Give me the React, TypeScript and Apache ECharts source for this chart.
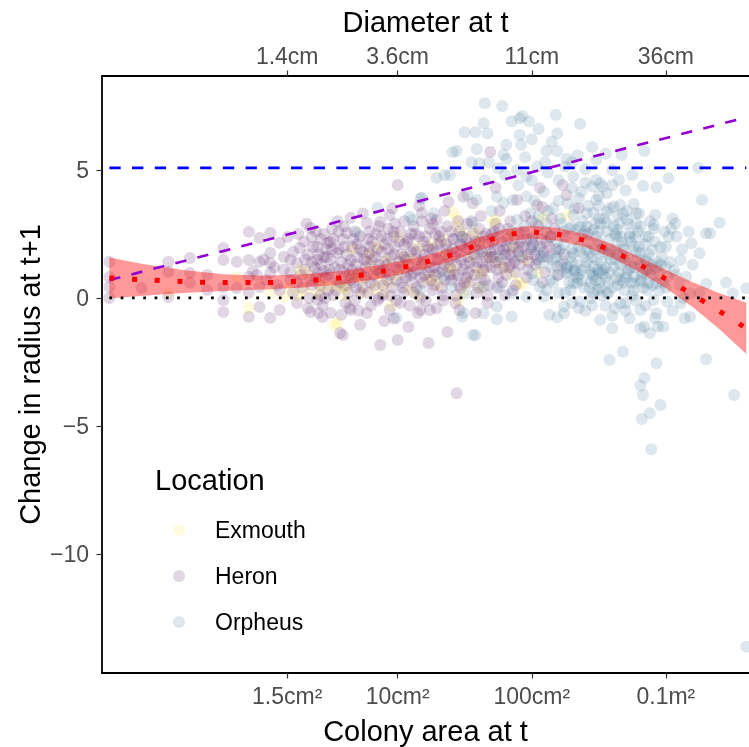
import React, { useEffect, useRef } from "react";
import * as echarts from "echarts";

const FONT = '"Liberation Sans", Arial, Helvetica, sans-serif';

// x = log10(colony area in cm²), y = change in radius at t+1
const areaTickCm2 = [1.5, 10, 100, 1000];
const areaTickLabels = ["1.5cm²", "10cm²", "100cm²", "0.1m²"];
const diameterTickLabels = ["1.4cm", "3.6cm", "11cm", "36cm"];
const yTicks = [-10, -5, 0, 5];
const xRange = [-1.205, 3.62];
const yRange = [-14.65, 8.67];

const locations = ["Exmouth", "Heron", "Orpheus"];
const locationColors = ["rgba(253,231,37,0.2)", "rgba(68,1,84,0.2)", "rgba(49,104,142,0.2)"];

const exmouth: number[][] = [
  [1.41, 3.36], [1.44, 3.13], [1.45, 2.77], [1.34, 2.27], [0.66, 1.88], [0.85, 1.99], [0.92, 1.48], [1.04, 1.6],
  [1.26, 0.82], [1.41, 1.09], [1.52, 0.59], [1.59, 0.98], [0.5, 0.43], [0.3, 0.31], [0.27, 1.09], [0.55, -0.98],
  [0.74, 0.7], [0.94, 0.59], [0.15, 0.04], [0.62, 0.43], [0.82, 0.31], [0.42, 0.7], [1.49, 0.2], [1.71, 2.97],
  [2.08, 3.13], [2.26, 3.24], [1.79, 1.17], [1.64, 1.02], [1.91, 0.59], [1.58, 2.54], [1.86, 1.99], [1.73, 3.05],
  [1.93, 0.51], [-0.11, -0.39], [-0.71, 0.2], [-0.2, 0.82], [0.66, 0.82], [0.32, 0.98], [0.2, 0.39], [0.05, 0.2],
  [0.44, 0.43], [0.87, 0.59], [1.09, 0.31], [0.74, 0.2], [0.59, 0.43], [1.2, 1.3], [1.0, 2.4], [1.15, 0.1],
  [0.53, -1.05], [0.7, 0.9], [0.9, 0.2], [1.1, 1.5], [1.3, 0.5], [1.35, 1.7], [1.55, 1.6], [1.75, 1.4], [1.85, 0.9],
  [1.0, 0.9], [0.8, 1.3], [0.6, 0.1], [0.4, 0.2], [1.25, 2.1], [1.6, 2.2], [1.95, 1.5], [2.05, 1.0], [0.95, -0.3],
  [1.45, -0.1], [0.25, 0.1], [0.85, 0.95], [1.05, 1.2], [1.22, 0.7], [1.38, 1.2], [1.5, 2.5], [1.68, 1.6], [0.78, 1.7],
  [0.55, 0.5], [1.85, 2.5], [1.62, 0.4], [1.15, 2.0],
];

const heron: number[][] = [
  [-1.15, 1.41], [-1.15, 0.82], [-1.15, 0.43], [-1.15, 0.0], [-0.91, 0.39], [-0.71, 1.41], [-0.71, 1.02], [-0.71, 0.04],
  [-0.55, 1.56], [-0.55, 0.98], [-0.55, 0.59], [-0.42, 0.9], [-0.42, 0.31], [-0.3, 1.95], [-0.3, 1.48], [-0.3, 0.43],
  [-0.3, -0.08], [-0.3, -0.55], [-0.2, 1.41], [-0.2, 0.39], [-0.11, 2.58], [-0.11, 1.48], [-0.11, 0.82], [-0.11, 0.2],
  [-0.11, -0.74], [-0.08, 1.05], [-0.03, 2.34], [-0.03, 1.41], [-0.03, 0.43], [-0.03, -0.35], [0.02, 0.7], [0.05, 2.54],
  [0.05, 1.76], [0.05, 1.37], [0.05, 0.98], [0.05, -0.78], [0.1, 0.5], [0.12, 2.15], [0.12, -0.47], [0.15, 1.1],
  [0.18, 2.38], [0.2, 1.48], [0.2, 0.7], [0.22, 0.2], [0.25, 1.37], [0.25, -0.2], [0.27, 1.95], [0.28, 0.9],
  [0.35, 2.73], [0.36, 2.38], [0.4, 1.99], [0.4, 1.48], [0.4, 0.98], [0.4, -0.08], [0.41, -0.59], [0.47, 1.6],
  [0.48, 2.15], [0.5, -0.59], [0.5, 2.19], [0.55, 1.76], [0.59, -1.45], [0.62, 2.54], [0.65, 3.13], [0.65, 1.48],
  [0.65, -0.47], [0.72, -1.05], [0.77, -0.59], [0.79, 1.76], [0.77, 2.93], [0.87, -1.84], [0.87, 2.97], [0.94, 3.24],
  [0.97, 2.58], [1.0, 4.41], [1.0, -1.64], [1.08, -1.13], [1.18, 3.32], [1.29, 3.05], [1.38, 3.75], [1.49, 3.95],
  [0.35, -0.55], [0.44, -0.74], [0.58, -0.66], [0.64, -0.39], [1.23, -1.76], [1.37, -1.33], [1.24, -0.47], [1.15, -0.59],
  [0.94, -0.47], [0.57, -1.37], [1.69, 5.7], [2.06, 4.3], [2.23, 4.41], [2.26, 4.02], [1.73, 4.3], [1.89, 3.83],
  [2.04, 3.63], [2.08, 3.55], [1.58, -0.59], [1.46, -0.47], [1.67, -0.2], [1.17, -0.47], [1.44, -3.72],
  [0.32, 2.9], [0.45, 2.5], [0.33, 1.7], [0.43, 1.3], [0.31, 1.1], [0.46, 0.8], [0.36, 0.5], [0.48, 0.3], [0.34, 0.0], [0.44, -0.3],
  [0.55, 3.0], [0.68, 2.6], [0.52, 2.3], [0.6, 2.0], [0.7, 1.6], [0.53, 1.2], [0.64, 0.9], [0.57, 0.6], [0.69, 0.4], [0.52, 0.1], [0.61, -0.2],
  [0.74, 3.3], [0.86, 2.8], [0.72, 2.4], [0.81, 2.2], [0.88, 1.8], [0.75, 1.5], [0.84, 1.1], [0.73, 0.9], [0.89, 0.5], [0.78, 0.2], [0.85, -0.1], [0.71, -0.5], [0.9, -0.9],
  [0.96, 3.5], [1.05, 3.0], [0.93, 2.7], [1.08, 2.3], [0.98, 2.0], [1.03, 1.7], [0.92, 1.3], [1.07, 1.0], [0.99, 0.7], [1.04, 0.4], [0.95, 0.1], [1.09, -0.3], [0.97, -0.8],
  [1.16, 3.6], [1.25, 3.1], [1.12, 2.8], [1.28, 2.5], [1.19, 2.2], [1.23, 1.9], [1.14, 1.5], [1.27, 1.2], [1.2, 0.9], [1.11, 0.6], [1.26, 0.3], [1.17, 0.0], [1.29, -0.4],
  [1.35, 3.4], [1.45, 3.0], [1.32, 2.6], [1.42, 2.3], [1.48, 2.0], [1.36, 1.7], [1.44, 1.3], [1.31, 1.0], [1.4, 0.7], [1.47, 0.4], [1.34, 0.1], [1.43, -0.2],
  [1.56, 3.7], [1.62, 3.2], [1.52, 2.9], [1.66, 2.5], [1.58, 2.2], [1.69, 1.8], [1.54, 1.4], [1.64, 1.1], [1.51, 0.8], [1.6, 0.4], [1.67, 0.1],
  [1.76, 3.4], [1.84, 3.0], [1.72, 2.6], [1.87, 2.3], [1.79, 1.9], [1.71, 1.6], [1.83, 1.2], [1.75, 0.8], [1.88, 0.5], [1.8, 0.1],
  [1.95, 3.2], [2.05, 2.8], [1.92, 2.2], [2.02, 1.7], [1.97, 1.1], [2.08, 0.6],
  [2.15, 3.1], [2.25, 2.4], [2.12, 1.6], [2.2, 0.9], [2.35, 3.5], [2.42, 2.5],
  [0.3, 2.2], [0.38, 1.2], [0.42, 0.1], [0.47, 1.9], [0.35, 0.7], [0.5, 1.5], [0.56, 2.6], [0.58, 1.4], [0.63, 0.2],
  [0.66, 1.1], [0.7, 2.1], [0.68, -0.1], [0.76, 1.2], [0.79, 2.6], [0.8, 0.6], [0.83, 1.6], [0.86, 0.0], [0.88, 2.4],
  [0.91, 1.0], [0.93, 1.9], [0.96, 0.4], [0.98, 2.9], [1.01, 1.4], [1.02, -0.2], [1.05, 2.1], [1.06, 0.8], [1.1, 1.8],
  [1.12, 0.2], [1.13, 2.5], [1.15, 1.1], [1.18, 3.0], [1.2, 1.7], [1.21, -0.1], [1.24, 2.7], [1.25, 0.7], [1.28, 1.5],
  [1.3, 2.1], [1.33, 0.4], [1.35, 1.3], [1.37, 2.8], [1.39, 0.9], [1.41, 1.9], [1.43, 0.1], [1.46, 2.6], [1.47, 1.5],
  [1.5, 0.6], [1.51, 2.3], [1.53, 1.0], [1.55, 3.0], [1.57, 1.7], [1.59, 0.2], [1.61, 2.7], [1.63, 1.4], [1.65, 0.7],
  [1.68, 2.1], [1.7, 1.2], [1.73, 2.9], [1.74, 0.4], [1.77, 1.5], [1.78, 2.2], [1.81, 0.9], [1.82, 2.7], [1.85, 1.6],
  [1.86, 0.3], [1.9, 2.0], [1.91, 1.3], [1.94, 2.6], [1.96, 0.8], [1.99, 1.9], [2.0, 3.0], [2.03, 1.3], [2.07, 2.3],
  [2.1, 1.0], [2.13, 2.0], [2.17, 2.7], [2.22, 1.3], [0.6, 1.0], [0.45, 1.05], [0.25, 0.6], [0.15, 1.6], [0.08, 1.2],
  [0.0, 1.5], [-0.05, 0.9], [0.12, 0.3], [0.2, 1.0],
  [0.22, 1.8], [0.26, 2.5], [0.29, 0.4], [0.31, 1.5], [0.33, -0.4], [0.37, 2.0], [0.39, 0.8], [0.41, 1.7], [0.43, 2.3],
  [0.46, 0.0], [0.49, 1.1], [0.51, 2.7], [0.54, 0.7], [0.56, 1.9], [0.59, 2.3], [0.61, 0.5], [0.63, 1.3], [0.66, 2.0],
  [0.67, 0.6], [0.71, 1.0], [0.72, 1.9], [0.74, 0.4], [0.77, 1.4], [0.78, 2.3], [0.8, -0.3], [0.82, 0.9], [0.84, 2.5],
  [0.86, 1.3], [0.89, 0.1], [0.9, 2.1], [0.92, 0.7], [0.95, 1.6], [0.97, 2.4], [0.99, -0.1], [1.0, 1.1], [1.02, 2.6],
  [1.04, 0.2], [1.06, 1.5], [1.07, 2.2], [1.1, 0.9], [1.12, 1.9], [1.14, 0.4], [1.16, 2.4], [1.18, 1.3], [1.19, 0.6],
  [1.22, 2.0], [1.23, 1.0], [1.26, 2.9], [1.27, 0.5], [1.29, 1.8], [1.31, 2.4], [1.33, 1.1], [1.34, -0.1], [1.36, 2.1],
  [1.38, 1.5], [1.4, 2.6], [1.42, 0.9], [1.44, 1.8], [1.46, 0.5], [1.48, 2.4], [1.5, 1.3], [1.52, 1.9], [1.54, 0.6],
  [1.56, 2.5], [1.58, 1.2], [1.6, 1.8], [1.62, 0.8], [1.64, 2.4], [1.66, 1.6], [1.68, 0.5], [1.7, 2.5], [1.72, 1.9],
  [1.74, 1.1], [1.76, 2.7], [1.78, 0.6], [1.8, 1.7], [1.82, 2.3], [1.84, 1.3], [1.86, 2.0], [1.88, 1.0], [1.9, 2.6],
  [1.93, 1.6], [1.96, 2.3], [1.98, 1.4], [2.01, 2.1], [2.04, 1.5], [2.09, 1.8], [2.14, 2.4], [2.18, 1.9], [2.24, 1.7],
  [0.36, 1.4], [0.39, 2.6], [0.42, 0.5], [0.45, 1.6], [0.48, 0.9], [0.51, 1.9], [0.54, 0.3], [0.57, 1.1], [0.6, 2.8],
  [0.62, 1.7], [0.65, 0.7], [0.67, 2.3], [0.69, 1.3], [0.72, 0.2], [0.74, 1.8], [0.76, 0.8], [0.79, 2.0], [0.81, 1.5],
  [0.83, 0.5], [0.85, 1.9], [0.87, 1.0], [0.9, 1.4], [0.92, 2.3], [0.94, 0.9], [0.97, 1.7], [0.99, 1.2], [1.01, 2.2],
  [1.03, 0.6], [1.05, 1.6], [1.08, 1.3], [1.1, 2.5], [1.12, 1.0], [1.14, 1.8], [1.17, 0.8], [1.19, 1.5], [1.21, 2.4],
  [1.24, 1.2], [1.26, 1.9], [1.28, 0.9], [1.3, 1.5], [1.32, 2.2], [1.35, 0.7], [1.37, 1.9], [1.39, 1.2], [1.41, 2.3],
  [1.43, 1.6], [1.45, 0.9], [1.47, 2.1], [1.49, 1.1], [1.52, 1.6], [1.54, 2.1], [1.57, 0.9], [1.59, 1.4], [1.61, 2.2],
  [1.63, 1.8], [1.66, 1.2], [1.69, 1.6], [1.71, 2.2], [1.73, 1.4], [1.76, 1.9], [1.79, 1.2], [1.81, 2.0], [1.84, 1.7],
  [1.87, 1.4], [1.9, 1.8], [1.94, 2.0], [1.97, 1.7], [2.0, 2.3], [2.06, 2.0], [2.11, 2.2],
];

const orpheus: number[][] = [
  [0.7, 2.54], [0.85, 3.52], [0.99, -0.78], [1.09, 3.17], [1.18, 3.91], [1.48, 2.38], [1.49, -0.59], [1.56, -1.45],
  [1.11, 3.05], [1.29, 4.69],
  [1.65, 7.61], [1.78, 7.5], [1.91, 7.02], [1.93, 7.11], [1.98, 6.89], [2.18, 7.15], [2.36, 6.8], [1.64, 6.82],
  [1.5, 6.47], [1.58, 6.47], [1.67, 6.43], [1.91, 6.37], [2.19, 6.43], [1.92, 5.98], [1.81, 5.98], [1.59, 5.82],
  [1.41, 5.69], [1.44, 5.74], [1.79, 5.59], [1.81, 5.42], [2.11, 5.75], [2.19, 5.74], [2.26, 5.43], [2.34, 5.57],
  [2.48, 5.39], [2.55, 5.63], [2.67, 5.59], [2.84, 5.74], [1.61, 5.26], [1.68, 5.29], [1.35, 4.8], [1.39, 4.8],
  [1.75, 5.07], [1.89, 5.0], [1.96, 4.74], [2.04, 5.13], [2.25, 5.13], [2.31, 4.74], [2.4, 5.03], [2.48, 4.61],
  [2.65, 4.61], [2.83, 4.38], [2.93, 4.32], [3.02, 4.68], [3.24, 5.09], [2.51, 4.48], [2.53, 4.35], [2.56, 4.09],
  [2.45, 4.35], [2.37, 4.15], [2.61, 3.57], [2.66, 3.63], [2.76, 3.67], [2.78, 3.31], [2.92, 3.24], [2.91, 2.85],
  [2.87, 2.39], [3.02, 2.39], [3.07, 2.92], [3.19, 2.14], [3.17, 2.59], [3.27, 3.83], [3.3, 2.53], [3.33, 2.53],
  [3.4, 2.94], [3.6, 0.38], [3.5, 0.18], [3.45, 0.6], [3.3, 0.55], [3.18, -0.73], [3.14, -0.79], [2.94, -1.12],
  [2.98, -1.12], [2.88, -1.38], [2.84, -1.12], [2.73, -0.79], [2.81, -0.47], [2.93, -0.6], [2.51, -0.86], [2.6, -1.18],
  [2.58, -2.42], [2.68, -2.1], [2.84, -3.13], [2.93, -2.55], [3.3, -2.39], [1.74, -0.83], [2.19, -0.75], [2.13, -0.66],
  [1.58, -1.45], [1.48, -0.73], [2.24, -0.34], [2.36, -0.14], [2.44, -0.01], [2.66, -0.21],
  [2.81, -3.42], [2.83, -3.79], [2.96, -4.18], [2.88, -4.5], [2.82, -4.73], [2.89, -5.91], [3.51, -3.79], [3.6, -13.62],
  [2.33, 2.66], [2.41, 2.79], [2.48, 2.39], [2.53, 2.0], [2.63, 2.39], [2.73, 2.53], [2.76, 2.0], [2.81, 1.75],
  [2.9, 1.88], [2.86, 1.42], [2.41, 1.88], [2.31, 1.75], [2.26, 1.22], [2.32, 1.03], [2.37, 0.7], [2.31, 0.57],
  [2.26, 0.96], [2.46, 1.22], [2.48, 0.7], [2.51, 0.38], [2.53, 0.96], [2.61, 1.22], [2.66, 0.7], [2.71, 0.96],
  [2.76, 0.57], [2.81, 0.7], [2.86, 0.31], [2.93, 0.57], [3.01, 0.83], [3.06, 1.09], [3.11, 1.48], [3.15, 0.83],
  [3.25, 1.75], [3.18, 0.18], [3.11, -0.21], [3.01, -0.14], [2.91, -0.08], [2.57, 0.18], [2.46, 0.18], [2.14, 0.7],
  [2.06, 0.44], [2.19, 1.22], [2.09, 1.61], [2.21, 1.88], [2.14, 2.39], [2.01, 2.39], [2.31, 3.24], [2.41, 3.31],
  [2.48, 3.83], [2.56, 3.37], [2.71, 3.05], [2.51, 2.92], [2.81, 2.79], [1.89, 3.05], [1.86, 3.83], [2.09, 4.15],
  [1.96, 3.96], [1.74, 3.96], [1.59, 3.83], [1.52, 4.02], [1.27, 3.31], [1.17, 3.89], [1.99, 3.31],
  [2.11, 2.92], [1.91, 1.61], [2.0, 0.96], [2.09, 0.05], [1.96, 0.05], [1.85, 0.18], [1.76, 0.44], [1.64, 0.44],
  [1.51, 0.18], [1.4, 0.44], [1.34, 0.83], [1.17, 0.31], [1.74, -0.34], [1.85, -0.73], [1.64, -0.6],
  [2.81, -1.18], [2.92, -0.79], [2.24, -0.6],
  [1.79, 3.71], [1.56, 2.93], [1.75, 2.46], [1.61, 1.88], [1.76, 1.6], [2.0, 1.99], [2.06, 1.37], [2.14, 1.21],
  [2.19, 0.9], [2.26, 1.17], [2.11, 0.31], [2.01, 0.7], [2.29, 0.31], [2.32, 1.09], [2.34, 0.59], [2.46, 0.82],
  [2.51, 0.59], [2.49, 0.31], [2.53, 1.09], [2.56, 0.2], [2.76, 0.82], [2.82, 0.63], [2.86, 1.09], [2.68, 1.6],
  [2.73, 2.38], [2.64, 2.66], [2.56, 2.93], [2.46, 3.32], [2.36, 2.77], [2.46, 2.66],
  [3.05, 3.1], [3.0, 2.0], [3.2, 1.3], [3.1, 0.5], [3.25, 0.2], [3.05, -0.5],
  [2.02, 3.8], [2.05, 3.2], [2.1, 2.6], [2.16, 3.5], [2.18, 1.6], [2.22, 2.9], [2.24, 2.1], [2.27, 3.7], [2.28, 0.6],
  [2.3, 1.4], [2.33, 2.3], [2.35, 0.9], [2.38, 3.0], [2.39, 1.6], [2.42, 2.2], [2.43, 0.4], [2.44, 1.0], [2.47, 1.9],
  [2.5, 2.6], [2.52, 1.4], [2.54, 3.1], [2.55, 0.8], [2.57, 1.7], [2.58, 2.3], [2.6, 0.4], [2.62, 1.9], [2.64, 3.2],
  [2.65, 1.0], [2.67, 2.2], [2.69, 0.3], [2.7, 1.4], [2.72, 2.9], [2.74, 1.2], [2.75, 0.1], [2.77, 2.4], [2.79, 1.5],
  [2.8, 3.3], [2.83, 1.0], [2.84, 2.1], [2.87, 0.6], [2.88, 3.0], [2.9, 1.3], [2.92, 2.2], [2.95, 0.9], [2.97, 1.6],
  [2.99, 2.6], [3.03, 1.4], [3.08, 2.4], [3.13, 0.0], [2.62, -0.4], [2.7, -0.2], [2.55, -0.3], [2.4, -0.5], [2.78, -0.1],
  [2.3, -0.2], [2.2, 0.2], [2.15, 1.5], [2.05, 1.9], [1.95, 2.8], [1.9, 4.4], [2.0, 4.6], [2.12, 4.9], [2.3, 4.3],
  [2.4, 4.5], [2.6, 5.0], [2.7, 4.2], [2.5, 3.6], [2.35, 3.9], [2.2, 3.8], [2.65, 2.9], [1.85, 2.6], [1.7, 3.4],
  [1.8, 4.8], [1.65, 4.6], [1.55, 5.3], [2.15, 6.1], [2.05, 6.6], [1.85, 6.9],
  [2.03, 2.9], [2.07, 1.6], [2.12, 3.4], [2.16, 0.6], [2.19, 2.2], [2.21, 3.1], [2.23, 1.4], [2.25, 0.2], [2.28, 2.7],
  [2.3, 1.9], [2.32, 3.5], [2.34, 0.8], [2.36, 1.8], [2.38, 2.5], [2.4, 1.2], [2.42, 3.6], [2.44, 0.6], [2.45, 1.6],
  [2.47, 2.9], [2.49, 1.1], [2.5, 2.2], [2.52, 0.1], [2.54, 1.8], [2.56, 2.6], [2.58, 1.0], [2.59, 1.5], [2.61, 2.8],
  [2.63, 0.8], [2.64, 1.7], [2.66, 2.4], [2.68, 0.6], [2.69, 1.9], [2.71, 3.4], [2.72, 1.1], [2.74, 2.2], [2.76, 0.3],
  [2.78, 1.8], [2.79, 2.6], [2.81, 1.3], [2.83, 0.4], [2.85, 2.4], [2.87, 1.7], [2.89, 0.9], [2.91, 2.7], [2.94, 1.4],
  [2.96, 2.0], [2.98, 0.6], [3.0, 1.2], [3.04, 2.7], [3.07, 0.9], [3.12, 1.9], [2.6, -0.7], [2.7, -0.5], [2.45, -0.3],
  [2.85, -0.3], [2.35, -0.4], [2.95, 0.3], [2.5, 4.0], [2.6, 4.4], [2.75, 4.8], [2.3, 5.3], [2.2, 4.6], [2.1, 5.3],
  [1.95, 5.5], [2.45, 5.9], [2.0, 6.2],
  [2.2, 1.8], [2.24, 2.6], [2.27, 1.0], [2.29, 1.6], [2.33, 1.3], [2.35, 2.0], [2.37, 1.1], [2.39, 0.4], [2.41, 1.4],
  [2.43, 1.8], [2.45, 0.9], [2.48, 1.5], [2.5, 1.0], [2.52, 1.9], [2.55, 1.2], [2.57, 0.6], [2.59, 1.9], [2.62, 1.5],
  [2.64, 0.5], [2.66, 1.3], [2.68, 2.0], [2.7, 0.8], [2.72, 1.6], [2.74, 0.6], [2.77, 1.2], [2.8, 2.0], [2.82, 0.9],
  [2.85, 1.5], [2.88, 1.1], [2.9, 0.5], [2.93, 1.2], [2.96, 1.3], [3.0, 0.4], [2.58, 3.5], [2.68, 3.3], [2.5, 3.1],
  [2.4, 2.6], [2.3, 2.8], [2.62, 2.5], [2.78, 2.9],
];

// loess fit with confidence band
const smoothX = [-1.15, -0.9, -0.6, -0.3, 0, 0.3, 0.6, 0.9, 1.2, 1.4, 1.6, 1.8, 2.0, 2.2, 2.4, 2.6, 2.8, 3.0, 3.2, 3.4, 3.6];
const smoothFit = [0.78, 0.71, 0.64, 0.6, 0.6, 0.67, 0.8, 1.05, 1.39, 1.68, 2.09, 2.44, 2.57, 2.48, 2.24, 1.83, 1.31, 0.74, 0.13, -0.52, -1.19];
const smoothLower = [-0.02, 0.09, 0.19, 0.27, 0.33, 0.41, 0.54, 0.78, 1.13, 1.42, 1.83, 2.19, 2.32, 2.23, 1.98, 1.56, 1.01, 0.38, -0.35, -1.22, -2.19];
const smoothUpper = [1.58, 1.33, 1.09, 0.93, 0.87, 0.93, 1.06, 1.32, 1.65, 1.94, 2.35, 2.69, 2.82, 2.73, 2.5, 2.1, 1.61, 1.1, 0.61, 0.18, -0.19];

// reference lines over the data range
const refX = [-1.15, 3.6];
const maxGrowthY = [0.7, 7.05];
const thresholdY = 5.08;
const zeroY = 0;

export default function App() {
  const ref = useRef<HTMLDivElement>(null);
  useEffect(() => {
    if (!ref.current) return;
    const chart = echarts.init(ref.current, null, { renderer: "svg" });
    const tickX = areaTickCm2.map((a) => Math.log10(a));
    const labelFor = (arr: string[]) => (v: number) => {
      const i = tickX.findIndex((t) => Math.abs(t - v) < 1e-6);
      return i >= 0 ? arr[i] : "";
    };
    const axisLine = { show: true, onZero: false, lineStyle: { color: "#000", width: 1.8 } };
    const axisTickCommon = { show: true, length: 5.5, lineStyle: { color: "#333333", width: 1.2 } };
    const labelStyle = { color: "#4D4D4D", fontSize: 23, fontFamily: FONT };

    const scatterSeries = [exmouth, heron, orpheus].map((d, i) => ({
      name: locations[i],
      type: "scatter",
      data: d,
      symbol: "circle",
      symbolSize: 12,
      itemStyle: { color: locationColors[i] },
      silent: true,
      z: 2,
    }));

    const option: any = {
      animation: false,
      textStyle: { fontFamily: FONT },
      grid: { left: 102, right: 0, top: 76, bottom: 74, containLabel: false, outerBoundsMode: "none" },
      xAxis: [
        {
          type: "value",
          min: xRange[0],
          max: xRange[1],
          position: "bottom",
          axisLine,
          axisTick: { ...axisTickCommon, customValues: tickX },
          axisLabel: { ...labelStyle, margin: 11, customValues: tickX, formatter: labelFor(areaTickLabels) },
          splitLine: { show: false },
        },
        {
          type: "value",
          min: xRange[0],
          max: xRange[1],
          position: "top",
          axisLine,
          axisTick: { ...axisTickCommon, customValues: tickX },
          axisLabel: { ...labelStyle, margin: 9, customValues: tickX, formatter: labelFor(diameterTickLabels) },
          splitLine: { show: false },
        },
      ],
      yAxis: {
        type: "value",
        min: yRange[0],
        max: yRange[1],
        axisLine,
        axisTick: { ...axisTickCommon, customValues: yTicks },
        axisLabel: {
          ...labelStyle,
          margin: 13,
          customValues: yTicks,
          formatter: (v: number) => (v < 0 ? "\u2212" + Math.abs(v) : String(v)),
        },
        splitLine: { show: false },
      },
      legend: {
        data: locations,
        orient: "vertical",
        left: 173,
        top: 518,
        padding: 0,
        itemGap: 22,
        itemWidth: 12,
        itemHeight: 12,
        icon: "circle",
        selectedMode: false,
        textStyle: { color: "#000", fontSize: 23, fontFamily: FONT, lineHeight: 24, padding: [0, 0, 0, 25] },
      },
      graphic: [
        { type: "text", x: 425.5, y: 22, style: { text: "Diameter at t", fontSize: 29, fontFamily: FONT, fill: "#000", textAlign: "center", textVerticalAlign: "middle" } },
        { type: "text", x: 425.5, y: 731, style: { text: "Colony area at t", fontSize: 29, fontFamily: FONT, fill: "#000", textAlign: "center", textVerticalAlign: "middle" } },
        { type: "text", x: 30, y: 374.5, rotation: Math.PI / 2, style: { text: "Change in radius at t+1", fontSize: 29, fontFamily: FONT, fill: "#000", textAlign: "center", textVerticalAlign: "middle" } },
        { type: "text", x: 155, y: 480, style: { text: "Location", fontSize: 29, fontFamily: FONT, fill: "#000", textAlign: "left", textVerticalAlign: "middle" } },
      ],
      series: [
        ...scatterSeries,
        {
          type: "custom",
          name: "band",
          data: smoothX.map((x, i) => [x, smoothLower[i], smoothUpper[i]]),
          encode: { x: 0, y: [1, 2] },
          silent: true,
          z: 3,
          renderItem: (params: any, api: any) => {
            if (params.dataIndex !== 0) return null;
            const top = smoothX.map((x, i) => api.coord([x, smoothUpper[i]]));
            const bot = smoothX.map((x, i) => api.coord([x, smoothLower[i]])).reverse();
            return { type: "polygon", shape: { points: top.concat(bot) }, style: { fill: "rgba(255,0,0,0.4)" } };
          },
        },
        {
          type: "line",
          data: refX.map((x) => [x, zeroY]),
          symbol: "none",
          silent: true,
          z: 4,
          lineStyle: { color: "#000", width: 2.7, type: [2.7, 8.6], cap: "butt" },
        },
        {
          type: "line",
          data: refX.map((x) => [x, thresholdY]),
          symbol: "none",
          silent: true,
          z: 4,
          lineStyle: { color: "#0000FF", width: 2.6, type: [11.3, 11.4], cap: "butt" },
        },
        {
          type: "line",
          data: refX.map((x, i) => [x, maxGrowthY[i]]),
          symbol: "none",
          silent: true,
          z: 4,
          lineStyle: { color: "#9400D3", width: 2.6, type: [11.3, 11.4], cap: "butt" },
        },
        {
          type: "line",
          data: smoothX.map((x, i) => [x, smoothFit[i]]),
          symbol: "none",
          smooth: 0.3,
          silent: true,
          z: 5,
          lineStyle: { color: "#FF0000", width: 5, type: [5, 17.7], cap: "butt" },
        },
      ],
    };
    chart.setOption(option);
    return () => chart.dispose();
  }, []);
  return <div ref={ref} style={{ position: "fixed", left: 0, top: 0, width: 749, height: 747 }} />;
}
